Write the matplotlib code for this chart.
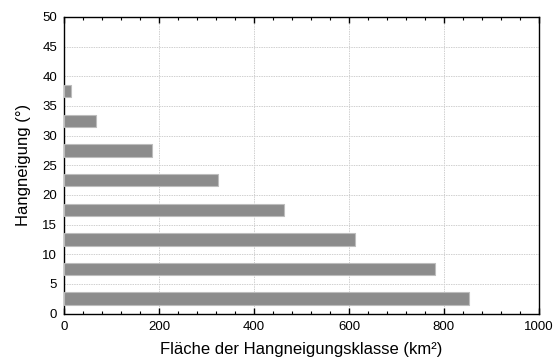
import matplotlib.pyplot as plt
from matplotlib.ticker import MultipleLocator

plt.rcParams['font.family'] = ['Liberation Sans', 'DejaVu Sans']

# Hangneigungsklassen (Mitte der 5°-Klassen) und Fläche in km²
neigung = [2.5, 7.5, 12.5, 17.5, 22.5, 27.5, 32.5, 37.5]
flaeche = [853, 782, 613, 463, 325, 185, 67, 15]

fig = plt.figure(figsize=(5.55, 3.6), dpi=100)
ax = fig.add_axes([0.1153, 0.129, 0.8557, 0.824])

ax.barh(neigung, flaeche, height=2.1, color='#8c8c8c', edgecolor='#bdbdbd',
        linewidth=0.8, zorder=3)

ax.set_xlim(0, 1000)
ax.set_ylim(0, 50)
ax.xaxis.set_major_locator(MultipleLocator(200))
ax.xaxis.set_minor_locator(MultipleLocator(40))
ax.yaxis.set_major_locator(MultipleLocator(5))

ax.grid(True, which='major', color='#d0d0d0', linestyle=(0, (1.5, 1)), linewidth=0.7, zorder=0)
ax.tick_params(axis='x', which='major', direction='in', top=True, length=4, width=1,
               labelsize=9.5, pad=5)
ax.tick_params(axis='x', which='minor', direction='in', top=True, length=2.5, width=0.8)
ax.tick_params(axis='y', which='both', length=0, labelsize=9.5, pad=5)

for s in ax.spines.values():
    s.set_linewidth(1.0)
    s.set_color('black')

ax.set_xlabel('Fläche der Hangneigungsklasse (km²)', fontsize=12, labelpad=7)
ax.set_ylabel('Hangneigung (°)', fontsize=12, labelpad=8)

fig.savefig('out.png', dpi=100)
